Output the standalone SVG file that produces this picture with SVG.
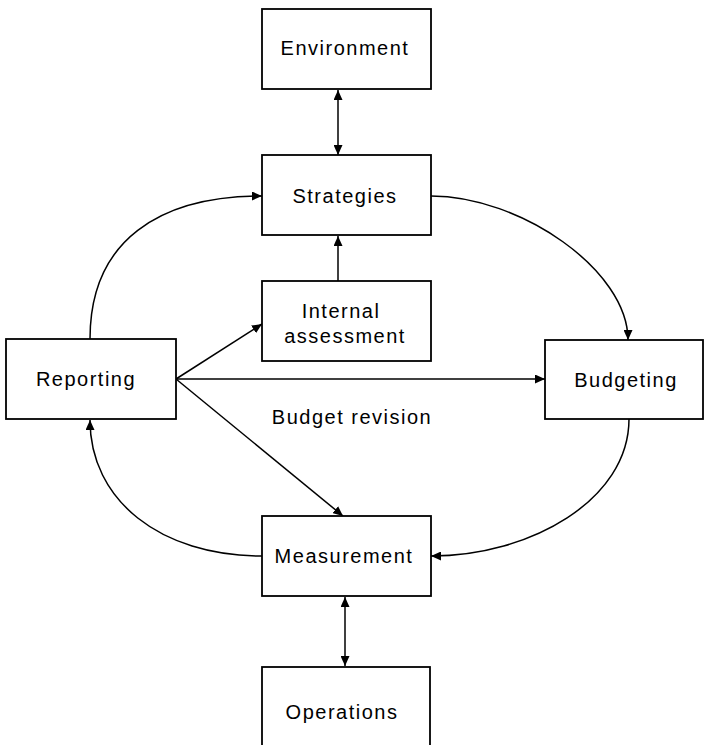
<svg xmlns="http://www.w3.org/2000/svg" width="704" height="745" viewBox="0 0 704 745">
  <style>
    .box { fill: #ffffff; stroke: #000000; stroke-width: 1.8; }
    .lbl { font-family: "Liberation Sans", Arial, sans-serif; font-size: 20px; letter-spacing: 1.5px; fill: #000000; text-anchor: middle; }
    .edge { fill: none; stroke: #000000; stroke-width: 1.5; }
  </style>
  <defs>
    <marker id="arrow" markerUnits="userSpaceOnUse" markerWidth="11" markerHeight="9" refX="10" refY="4.5" orient="auto-start-reverse">
      <path d="M0,0 L10,4.5 L0,9 z" fill="#000000"/>
    </marker>
  </defs>
  <rect width="704" height="745" fill="#ffffff"/>

  <g id="connectors">
    <!-- Environment <-> Strategies -->
    <line class="edge" x1="338" y1="90" x2="338" y2="155" marker-start="url(#arrow)" marker-end="url(#arrow)"/>
    <!-- Internal assessment -> Strategies -->
    <line class="edge" x1="338" y1="281" x2="338" y2="236" marker-end="url(#arrow)"/>
    <!-- Reporting -> Strategies -->
    <path class="edge" d="M90 339 C90 240 160 196 262 196" marker-end="url(#arrow)"/>
    <!-- Strategies -> Budgeting -->
    <path class="edge" d="M431 196 C520 196 628 270 628 340" marker-end="url(#arrow)"/>
    <!-- Budgeting -> Measurement -->
    <path class="edge" d="M629 419 C629 500 530 556 431 556" marker-end="url(#arrow)"/>
    <!-- Measurement -> Reporting -->
    <path class="edge" d="M262 556 C160 556 90 500 90 420" marker-end="url(#arrow)"/>
    <!-- Reporting -> Internal assessment -->
    <line class="edge" x1="176" y1="379" x2="262" y2="324" marker-end="url(#arrow)"/>
    <!-- Reporting -> Budgeting -->
    <line class="edge" x1="176" y1="379" x2="545" y2="379" marker-end="url(#arrow)"/>
    <!-- Reporting -> Measurement -->
    <line class="edge" x1="176" y1="379" x2="343" y2="516" marker-end="url(#arrow)"/>
    <!-- Measurement <-> Operations -->
    <line class="edge" x1="345" y1="597" x2="345" y2="666" marker-start="url(#arrow)" marker-end="url(#arrow)"/>
    <text class="lbl" x="352" y="424">Budget revision</text>
  </g>

  <g id="environment">
    <rect class="box" x="262" y="9" width="169" height="80"/>
    <text class="lbl" x="345" y="55">Environment</text>
  </g>
  <g id="strategies">
    <rect class="box" x="262" y="155" width="169" height="80"/>
    <text class="lbl" x="345" y="203">Strategies</text>
  </g>
  <g id="internal-assessment">
    <rect class="box" x="262" y="281" width="169" height="80"/>
    <text class="lbl" x="341" y="318">Internal</text>
    <text class="lbl" x="345" y="343">assessment</text>
  </g>
  <g id="reporting">
    <rect class="box" x="6" y="339" width="170" height="80"/>
    <text class="lbl" x="86" y="386">Reporting</text>
  </g>
  <g id="budgeting">
    <rect class="box" x="545" y="340" width="158" height="79"/>
    <text class="lbl" x="626" y="387">Budgeting</text>
  </g>
  <g id="measurement">
    <rect class="box" x="262" y="516" width="169" height="80"/>
    <text class="lbl" x="344" y="563">Measurement</text>
  </g>
  <g id="operations">
    <rect class="box" x="262" y="667" width="168" height="100"/>
    <text class="lbl" x="342" y="719">Operations</text>
  </g>
</svg>
